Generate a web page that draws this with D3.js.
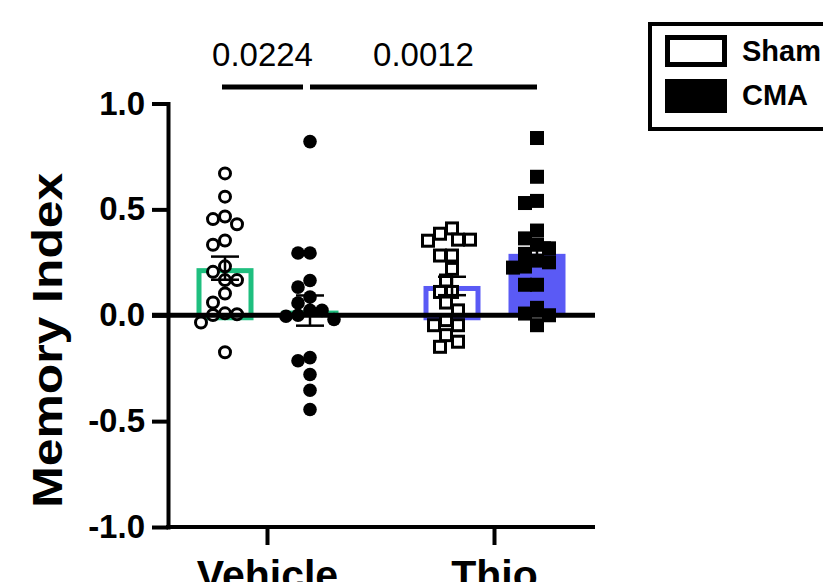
<!DOCTYPE html>
<html>
<head>
<meta charset="utf-8">
<script src="https://cdn.jsdelivr.net/npm/d3@7"></script>
<style>
  body { margin: 0; background: #fff; }
  text { font-family: "Liberation Sans", Arial, sans-serif; fill: #000; }
</style>
</head>
<body>
<svg width="823" height="582"></svg>
<script>
var treatments = ["Vehicle", "Thio"],
    conditions = ["Sham", "CMA"];

// memory index per animal
var vehicleSham = [0.67, 0.56, 0.454, 0.466, 0.43, 0.333, 0.353, 0.231, 0.205, 0.166, 0.166,
                   0.103, 0.06, 0.009, 0.001, -0.034, 0.005, -0.175];
var vehicleCMA = [0.82, 0.294, 0.294, 0.164, 0.133, 0.086, 0.058, 0.0, -0.02, 0.023, 0.023,
                  -0.005, -0.2, -0.215, -0.28, -0.354, -0.445];
var thioSham = [0.41, 0.385, 0.357, 0.352, 0.357, 0.282, 0.282, 0.219, 0.164, 0.11, 0.11,
                0.06, 0.023, -0.023, -0.047, -0.047, -0.094, -0.149, -0.125];
var thioCMA = [0.837, 0.654, 0.54, 0.53, 0.40, 0.363, 0.333, 0.316, 0.29, 0.23, 0.25, 0.225,
               0.258, 0.144, 0.144, 0.035, -0.047, 0.0, 0.008];

var yTicks = [-1.0, -0.5, 0.0, 0.5, 1.0];

// pairwise comparisons shown above the bars
var comparisons = [
  { from: ["Vehicle", "Sham"], to: ["Vehicle", "CMA"], p: "0.0224" },
  { from: ["Vehicle", "CMA"], to: ["Thio", "CMA"], p: "0.0012" }
];
var comparisonLevel = 1.078;

var treatmentColor = { Vehicle: "#1fbf7f", Thio: "#5a5af5" };

var groups = [
  { treatment: "Vehicle", condition: "Sham", values: vehicleSham },
  { treatment: "Vehicle", condition: "CMA", values: vehicleCMA },
  { treatment: "Thio", condition: "Sham", values: thioSham },
  { treatment: "Thio", condition: "CMA", values: thioCMA }
];

var svg = d3.select("svg");

var y = d3.scaleLinear().domain([-1, 1]).range([527, 103.5]);
var x = d3.scaleBand().domain(treatments).range([154, 608]);
var xSub = d3.scalePoint().domain(conditions).range([-42.5, 42.5]);

function cx(t, c) { return x(t) + x.bandwidth() / 2 + xSub(c); }

var barW = 57;

groups.forEach(function(g) {
  g.mean = d3.mean(g.values);
  g.sem = d3.deviation(g.values) / Math.sqrt(g.values.length);
  g.cx = cx(g.treatment, g.condition);
});

// bars
var bars = svg.append("g").attr("class", "bars");
groups.forEach(function(g) {
  var sham = g.condition === "Sham",
      inset = sham ? 2.5 : 0;
  bars.append("rect")
    .attr("x", g.cx - barW / 2 + inset)
    .attr("width", barW - 2 * inset)
    .attr("y", y(Math.max(g.mean, 0)) + inset)
    .attr("height", Math.abs(y(g.mean) - y(0)))
    .attr("fill", sham ? "none" : treatmentColor[g.treatment])
    .attr("stroke", sham ? treatmentColor[g.treatment] : "none")
    .attr("stroke-width", 5);
});

// simple beeswarm so the dots don't pile on top of each other
function swarm(values, D) {
  var h = D / 2, cands = [0], placed = [];
  for (var k = 1; k <= 10; k++) { cands.push(-k * h, k * h); }
  var order = values.map(function(v, i) { return i; })
    .sort(function(a, b) { return values[b] - values[a]; });
  order.forEach(function(i) {
    var py = y(values[i]);
    for (var j = 0; j < cands.length; j++) {
      var c = cands[j];
      var ok = placed.every(function(p) {
        return (p.dx - c) * (p.dx - c) + (p.py - py) * (p.py - py) >= D * D;
      });
      if (ok) { placed.push({ dx: c, py: py }); break; }
    }
  });
  return placed;
}

var points = svg.append("g").attr("class", "points");
groups.forEach(function(g) {
  var pts = swarm(g.values, 12),
      open = g.condition === "Sham";
  if (g.treatment === "Vehicle") {
    points.selectAll(null).data(pts).enter().append("circle")
      .attr("cx", function(d) { return g.cx + d.dx; })
      .attr("cy", function(d) { return d.py; })
      .attr("r", open ? 5.5 : 6.8)
      .attr("fill", open ? "#fff" : "#000")
      .attr("stroke", open ? "#000" : "none")
      .attr("stroke-width", 3);
  } else {
    var s = open ? 11 : 14;
    points.selectAll(null).data(pts).enter().append("rect")
      .attr("x", function(d) { return g.cx + d.dx - s / 2; })
      .attr("y", function(d) { return d.py - s / 2; })
      .attr("width", s).attr("height", s)
      .attr("fill", open ? "#fff" : "#000")
      .attr("stroke", open ? "#000" : "none")
      .attr("stroke-width", 3);
  }
});

// zero line
svg.append("line")
  .attr("x1", 152).attr("x2", 595)
  .attr("y1", y(0)).attr("y2", y(0))
  .attr("stroke", "#000").attr("stroke-width", 5);

// error bars (mean +/- SEM)
var err = svg.append("g").attr("class", "errorbars")
  .attr("stroke", "#000").attr("stroke-width", 2.5);
groups.forEach(function(g) {
  var top = y(g.mean + g.sem), bot = y(g.mean - g.sem);
  err.append("line").attr("x1", g.cx).attr("x2", g.cx).attr("y1", top).attr("y2", bot);
  err.append("line").attr("x1", g.cx - 14).attr("x2", g.cx + 14).attr("y1", top).attr("y2", top);
  err.append("line").attr("x1", g.cx - 14).attr("x2", g.cx + 14).attr("y1", bot).attr("y2", bot);
});

// y axis
var yAxis = svg.append("g")
  .attr("transform", "translate(168,0)")
  .call(d3.axisLeft(y).tickValues(yTicks)
    .tickFormat(function(d) { return d.toFixed(1); })
    .tickSize(16).tickSizeOuter(0).tickPadding(7));
yAxis.select(".domain").attr("stroke-width", 4).attr("stroke-linecap", "square");
yAxis.selectAll(".tick line").attr("stroke-width", 4);
yAxis.selectAll(".tick text")
  .attr("font-size", 33).attr("font-weight", "bold")
  .attr("font-family", "'Liberation Sans', Arial, sans-serif");

// x axis
svg.append("line")
  .attr("x1", 166).attr("x2", 595)
  .attr("y1", y(-1)).attr("y2", y(-1))
  .attr("stroke", "#000").attr("stroke-width", 4);
var xAxis = svg.append("g")
  .attr("transform", "translate(0," + y(-1) + ")")
  .call(d3.axisBottom(x).tickSize(18).tickPadding(15));
xAxis.select(".domain").remove();
xAxis.selectAll(".tick line").attr("stroke-width", 4);
xAxis.selectAll(".tick text")
  .attr("font-size", 41).attr("font-weight", "bold")
  .attr("font-family", "'Liberation Sans', Arial, sans-serif");

// y title
svg.append("text")
  .attr("transform", "translate(62," + ((527 + 103.5) / 2 + 25) + ") rotate(-90)")
  .attr("text-anchor", "middle")
  .attr("font-size", 42).attr("font-weight", "bold")
  .attr("textLength", 335).attr("lengthAdjust", "spacingAndGlyphs")
  .text("Memory Index");

// significance bars
var sig = svg.append("g").attr("class", "sig");
comparisons.forEach(function(c, i) {
  var x1 = cx(c.from[0], c.from[1]), x2 = cx(c.to[0], c.to[1]);
  // leave a small gap where a bar ends at the start of the next one
  if (i === 0) { x1 -= 3; x2 -= 7; }
  sig.append("line")
    .attr("x1", x1).attr("x2", x2)
    .attr("y1", y(comparisonLevel)).attr("y2", y(comparisonLevel))
    .attr("stroke", "#000").attr("stroke-width", 5);
  sig.append("text")
    .attr("x", (x1 + x2) / 2).attr("y", y(comparisonLevel) - 21)
    .attr("text-anchor", "middle")
    .attr("font-size", 33)
    .text(c.p);
});

// legend
var legend = svg.append("g").attr("class", "legend");
legend.append("rect")
  .attr("x", 650).attr("y", 24).attr("width", 220).attr("height", 105)
  .attr("fill", "#fff").attr("stroke", "#000").attr("stroke-width", 4);
conditions.forEach(function(c, i) {
  var ly = 35 + i * 44;
  if (c === "Sham") {
    legend.append("rect").attr("x", 667.5).attr("y", ly + 2.5).attr("width", 57).attr("height", 27)
      .attr("fill", "#fff").attr("stroke", "#000").attr("stroke-width", 5);
  } else {
    legend.append("rect").attr("x", 665).attr("y", ly).attr("width", 62).attr("height", 34)
      .attr("fill", "#000");
  }
  legend.append("text")
    .attr("x", 742).attr("y", ly + 26)
    .attr("font-size", 29).attr("font-weight", "bold")
    .text(c);
});
</script>
</body>
</html>
